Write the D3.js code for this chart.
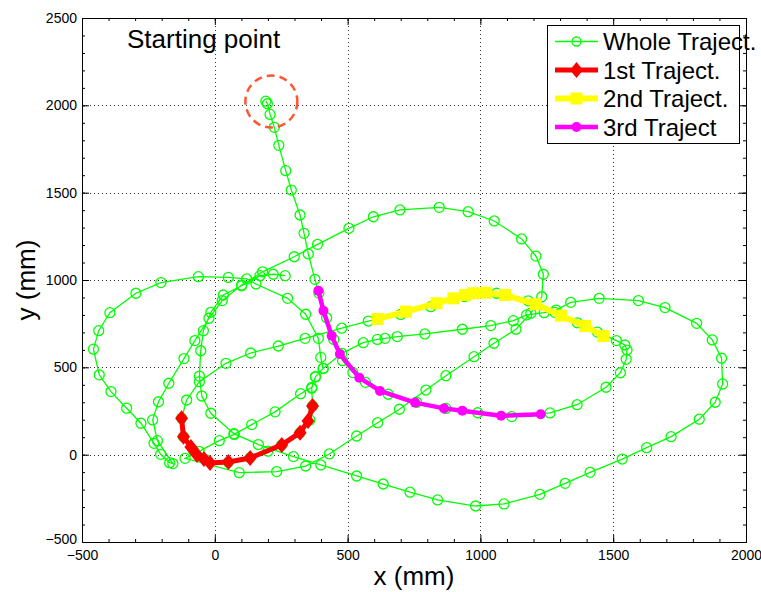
<!DOCTYPE html>
<html><head><meta charset="utf-8">
<script src="https://cdn.jsdelivr.net/npm/d3@7"></script>
<style>
body{margin:0;background:#fff;}
svg{display:block;font-family:"Liberation Sans",Arial,sans-serif;}
</style></head>
<body><svg id="c" width="761" height="592"></svg>
<script>
// ---- data (mm) ----
const xTicks = [-500, 0, 500, 1000, 1500, 2000];
const yTicks = [-500, 0, 500, 1000, 1500, 2000, 2500];
const xTickLabels = ["\u2212500", "0", "500", "1000", "1500", "2000"];
const yTickLabels = ["\u2212500", "0", "500", "1000", "1500", "2000", "2500"];

const wholeTraj = [
 [192,2024],[198,2009],[208,1948],[224,1874],[241,1771],[267,1626],[288,1515],[321,1372],[336,1267],[352,1149],[377,1004],
 [392,925],[421,784],[448,660],[481,538],[520,470],[567,414],[653,346],[760,300],[870,265],[990,240],[1118,218],
 [1262,239],[1364,286],[1473,386],[1527,469],[1549,546],[1552,599],[1544,628],[1512,653],
 [1440,702],[1365,755],[1280,815],[1180,881],[1061,924],[940,905],[813,847],[700,803],[578,765],
 [478,724],[340,666],[239,622],[135,582],[42,523],[-58,418],[-106,313],
 [-125,208],[-118,103],[-81,25],[-35,-28],[51,-44],[133,-18],[200,20],[252,56],[321,126],[358,199],[368,279],
 [365,380],[379,446],[408,494],[399,557],[390,666],[342,804],[274,895],[155,977],[120,1006],[51,1015],[-62,1019],
 [-203,985],[-297,924],[-395,813],[-437,710],[-457,604],[-435,457],[-391,361],[-332,266],[-278,180],[-229,65],[-204,2],[-170,-46],[-158,-51],
 [-216,80],[-234,199],[-212,303],[-173,409],[-116,550],[-75,653],[-22,781],[28,882],[101,971],[180,1047],[299,1133],[387,1204],
 [505,1296],[597,1362],[697,1401],[845,1416],[954,1391],[1052,1338],[1155,1235],[1209,1137],[1237,1033],[1231,904],[1190,810],
 [1134,718],[1051,638],[976,561],[870,452],[795,370],[695,260],[613,183],[534,107],[431,4],[342,-65],[233,-97],[92,-103],[-112,-21],
 [-59,19],[17,80],[73,116],[139,172],[227,245],[323,349],[365,385],[379,446],[408,494],
 [478,580],[559,641],[612,660],[641,666],[687,676],[791,691],[932,718],[1039,739],[1124,767],[1174,800],[1240,813],[1285,828],
 [1340,872],[1447,895],[1595,882],[1695,842],[1814,752],[1873,657],[1908,552],[1912,405],[1884,300],[1824,203],[1718,103],
 [1626,40],[1534,-25],[1413,-101],[1319,-164],[1224,-227],[1089,-282],[982,-294],[839,-259],[735,-215],[634,-168],[534,-122],
 [399,-59],[296,-11],[164,58],[72,120],[-15,237],[-49,336],[-58,450],[-53,595],[-43,710],[-15,815],[32,914],[101,967],
 [170,1025],[220,1033],[265,1025]
];
const traj1 = [[-125,208],[-118,103],[-90,44],[-67,-2],[-41,-25],[-18,-48],[51,-42],[133,-19],[252,56],[321,126],[351,193],[368,279]];
const traj2 = [[613,777],[720,819],[835,867],[898,895],[942,914],[973,924],[1021,927],[1093,914],[1209,861],[1303,796],[1394,737],[1463,679]];
const traj3 = [[390,939],[409,824],[440,681],[471,576],[544,441],[622,365],[754,298],[863,265],[932,252],[1078,223],[1227,231]];
const startPoint = [213, 2022];
const legendLabels = ["Whole Traject.", "1st Traject.", "2nd Traject.", "3rd Traject"];

// ---- layout ----
const L = 82, R = 746, T = 18, B = 542;
const x = d3.scaleLinear().domain([-500, 2000]).range([L, R]);
const y = d3.scaleLinear().domain([-500, 2500]).range([B, T]);
const svg = d3.select("#c");

// grid
const grid = svg.append("g").attr("stroke", "#333").attr("stroke-width", 1).attr("stroke-dasharray", "1,3");
grid.selectAll(".gx").data(xTicks.slice(1, -1)).enter().append("line")
  .attr("x1", d => Math.round(x(d)) + 0.5).attr("x2", d => Math.round(x(d)) + 0.5).attr("y1", T).attr("y2", B);
grid.selectAll(".gy").data(yTicks.slice(1, -1)).enter().append("line")
  .attr("y1", d => Math.round(y(d)) + 0.5).attr("y2", d => Math.round(y(d)) + 0.5).attr("x1", L).attr("x2", R);

// axes
const minorX = d3.range(-500, 2001, 100), minorY = d3.range(-500, 2501, 100);
function styleAxis(g) { g.selectAll("path").attr("stroke", "#000"); g.selectAll("line").attr("stroke", "#000"); }
svg.append("g").attr("transform", `translate(0,${B})`).call(d3.axisBottom(x).tickValues(minorX).tickSize(-3).tickFormat("")).call(styleAxis);
svg.append("g").attr("transform", `translate(0,${T})`).call(d3.axisTop(x).tickValues(minorX).tickSize(-3).tickFormat("")).call(styleAxis);
svg.append("g").attr("transform", `translate(${L},0)`).call(d3.axisLeft(y).tickValues(minorY).tickSize(-3).tickFormat("")).call(styleAxis);
svg.append("g").attr("transform", `translate(${R},0)`).call(d3.axisRight(y).tickValues(minorY).tickSize(-3).tickFormat("")).call(styleAxis);

const xb = svg.append("g").attr("transform", `translate(0,${B})`)
  .call(d3.axisBottom(x).tickValues(xTicks).tickSize(-7).tickPadding(8).tickFormat((d, i) => xTickLabels[i])).call(styleAxis);
xb.selectAll("text").attr("font-size", 14).attr("font-family", "Liberation Sans, Arial, sans-serif").attr("fill", "#000");
svg.append("g").attr("transform", `translate(0,${T})`).call(d3.axisTop(x).tickValues(xTicks).tickSize(-7).tickFormat("")).call(styleAxis);
const yl = svg.append("g").attr("transform", `translate(${L},0)`)
  .call(d3.axisLeft(y).tickValues(yTicks).tickSize(-7).tickPadding(5).tickFormat((d, i) => yTickLabels[i])).call(styleAxis);
yl.selectAll("text").attr("font-size", 14).attr("font-family", "Liberation Sans, Arial, sans-serif").attr("fill", "#000");
yl.selectAll(".tick").filter(d => d === -500).select("text").attr("dy", "0.1em");
svg.append("g").attr("transform", `translate(${R},0)`).call(d3.axisRight(y).tickValues(yTicks).tickSize(-7).tickFormat("")).call(styleAxis);
svg.selectAll(".domain").attr("stroke-width", 1);

// series
const line = d3.line().x(d => x(d[0])).y(d => y(d[1]));
svg.append("path").datum(wholeTraj).attr("d", line).attr("fill", "none").attr("stroke", "#00ff00").attr("stroke-width", 1.3);
svg.append("g").selectAll("circle").data(wholeTraj).enter().append("circle")
  .attr("cx", d => x(d[0])).attr("cy", d => y(d[1])).attr("r", 5)
  .attr("fill", "none").attr("stroke", "#00ff00").attr("stroke-width", 1.3);

svg.append("path").datum(traj1).attr("d", line).attr("fill", "none").attr("stroke", "#ff0000").attr("stroke-width", 5).attr("stroke-linejoin", "round");
svg.append("g").selectAll("path").data(traj1).enter().append("path")
  .attr("d", "M0,-8L6.5,0L0,8L-6.5,0Z").attr("transform", d => `translate(${x(d[0])},${y(d[1])})`).attr("fill", "#ff0000");

svg.append("path").datum(traj2).attr("d", line).attr("fill", "none").attr("stroke", "#ffff00").attr("stroke-width", 6).attr("stroke-linejoin", "round");
svg.append("g").selectAll("rect").data(traj2).enter().append("rect")
  .attr("x", d => x(d[0]) - 6).attr("y", d => y(d[1]) - 6).attr("width", 12).attr("height", 12).attr("fill", "#ffff00");

svg.append("path").datum(traj3).attr("d", line).attr("fill", "none").attr("stroke", "#ff00ff").attr("stroke-width", 4.5).attr("stroke-linejoin", "round");
svg.append("g").selectAll("circle").data(traj3).enter().append("circle")
  .attr("cx", d => x(d[0])).attr("cy", d => y(d[1])).attr("r", 5).attr("fill", "#ff00ff");

// starting point annotation
svg.append("circle").attr("cx", x(startPoint[0])).attr("cy", y(startPoint[1])).attr("r", 26)
  .attr("fill", "none").attr("stroke", "#ff5533").attr("stroke-width", 2.5).attr("stroke-dasharray", "8,5");
svg.append("text").attr("x", 127).attr("y", 48).attr("font-size", 26).attr("fill", "#000").text("Starting point");

// axis labels
svg.append("text").attr("x", (L + R) / 2).attr("y", 585).attr("text-anchor", "middle").attr("font-size", 26).text("x (mm)");
svg.append("text").attr("transform", `translate(35,${(T + B) / 2}) rotate(-90)`).attr("text-anchor", "middle").attr("font-size", 26).text("y (mm)");

// legend
const lg = svg.append("g");
lg.append("rect").attr("x", 547.5).attr("y", 25.5).attr("width", 192).attr("height", 118).attr("fill", "#fff").attr("stroke", "#000").attr("stroke-width", 1);
const rowsY = [41.5, 70, 98.5, 127];
const lx1 = 555, lx2 = 598, lm = 576.5;
lg.append("line").attr("x1", lx1).attr("x2", lx2).attr("y1", rowsY[0]).attr("y2", rowsY[0]).attr("stroke", "#00ff00").attr("stroke-width", 1.3);
lg.append("circle").attr("cx", lm).attr("cy", rowsY[0]).attr("r", 4.5).attr("fill", "none").attr("stroke", "#00ff00").attr("stroke-width", 1.3);
lg.append("line").attr("x1", lx1).attr("x2", lx2).attr("y1", rowsY[1]).attr("y2", rowsY[1]).attr("stroke", "#ff0000").attr("stroke-width", 5);
lg.append("path").attr("d", "M0,-8L6.5,0L0,8L-6.5,0Z").attr("transform", `translate(${lm},${rowsY[1]})`).attr("fill", "#ff0000");
lg.append("line").attr("x1", lx1).attr("x2", lx2).attr("y1", rowsY[2]).attr("y2", rowsY[2]).attr("stroke", "#ffff00").attr("stroke-width", 6);
lg.append("rect").attr("x", lm - 6).attr("y", rowsY[2] - 6).attr("width", 12).attr("height", 12).attr("fill", "#ffff00");
lg.append("line").attr("x1", lx1).attr("x2", lx2).attr("y1", rowsY[3]).attr("y2", rowsY[3]).attr("stroke", "#ff00ff").attr("stroke-width", 4.5);
lg.append("circle").attr("cx", lm).attr("cy", rowsY[3]).attr("r", 5).attr("fill", "#ff00ff");
lg.selectAll("text.l").data(legendLabels).enter().append("text")
  .attr("x", 603).attr("y", (d, i) => rowsY[i] + 8.5).attr("font-size", 24).attr("fill", "#000").text(d => d);
</script></body></html>
